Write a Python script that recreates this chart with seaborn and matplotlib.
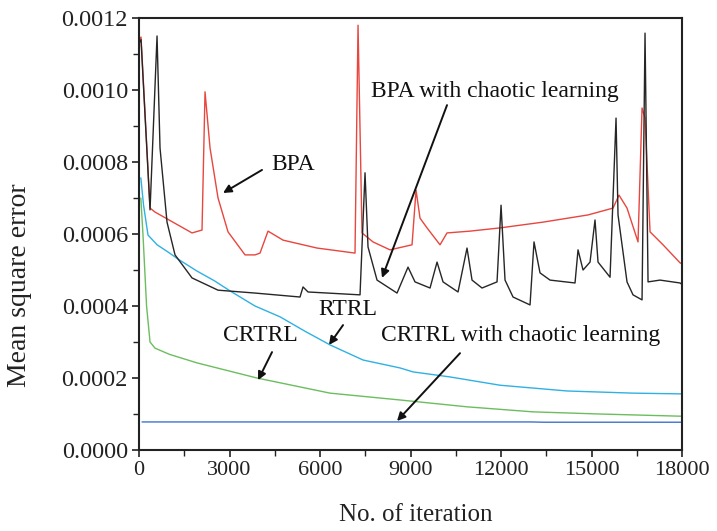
import numpy as np
import pandas as pd
import matplotlib
matplotlib.use("Agg")
import matplotlib.pyplot as plt
import seaborn as sns

# ---------------- data ----------------
bpa_x = [0, 66, 365, 530, 1757, 2088, 2188, 2354, 2619, 2950, 3514, 3845, 4011, 4276,
         4774, 5901, 7160, 7260, 7392, 7757, 8320, 9050, 9183, 9315, 9547, 9978, 10210,
         10973, 11967, 13393, 14885, 15713, 15912, 16177, 16542, 16675, 16774, 16940,
         17371, 17934, 18000]
bpa_y = [0.00114, 0.001147, 0.000672, 0.000661, 0.000603, 0.000611, 0.000995, 0.000839,
         0.000700, 0.000606, 0.000542, 0.000542, 0.000547, 0.000608, 0.000583, 0.000561,
         0.000547, 0.001180, 0.000603, 0.000578, 0.000556, 0.000570, 0.000722, 0.000644,
         0.000617, 0.000570, 0.000603, 0.000608, 0.000617, 0.000633, 0.000653, 0.000672,
         0.000708, 0.000672, 0.000578, 0.000950, 0.000922, 0.000606, 0.000570, 0.000520,
         0.000517]

chaos_x = [0, 66, 365, 597, 696, 928, 1193, 1757, 2619, 3845, 5337, 5437, 5602, 7326,
           7492, 7591, 7890, 8553, 8917, 9149, 9647, 9879, 10078, 10575, 10873, 11039,
           11370, 11868, 12001, 12133, 12398, 12962, 13094, 13293, 13625, 14453, 14553,
           14719, 14951, 15116, 15216, 15614, 15813, 15879, 16177, 16376, 16675, 16774,
           16874, 17271, 17934, 18000]
chaos_y = [0.00113, 0.00114, 0.000667, 0.001150, 0.000839, 0.000633, 0.000542, 0.000478,
           0.000444, 0.000436, 0.000425, 0.000453, 0.000439, 0.000431, 0.000770, 0.000564,
           0.000472, 0.000436, 0.000508, 0.000467, 0.000450, 0.000522, 0.000467, 0.000439,
           0.000561, 0.000472, 0.000450, 0.000467, 0.000680, 0.000472, 0.000425, 0.000403,
           0.000578, 0.000492, 0.000472, 0.000464, 0.000556, 0.000500, 0.000522, 0.000639,
           0.000522, 0.000480, 0.000922, 0.000653, 0.000467, 0.000431, 0.000417, 0.001158,
           0.000467, 0.000472, 0.000464, 0.000460]

rtrl_x = [60, 150, 298, 600, 961, 1300, 1923, 2500, 3017, 3845, 4674, 5500, 6332, 7426,
          8652, 9083, 10310, 11967, 14188, 16376, 17934, 18000]
rtrl_y = [0.000756, 0.000680, 0.000597, 0.000570, 0.000550, 0.000530, 0.000497, 0.000470,
          0.000442, 0.000400, 0.000370, 0.000330, 0.000292, 0.000250, 0.000228, 0.000217,
          0.000203, 0.000180, 0.000164, 0.000158, 0.000156, 0.000156]

crtrl_x = [60, 130, 250, 365, 530, 1000, 1923, 3911, 6332, 8652, 10873, 13061, 15282,
           17934, 18000]
crtrl_y = [0.000700, 0.000600, 0.000400, 0.000300, 0.000283, 0.000266, 0.000242, 0.000200,
           0.000158, 0.000139, 0.000120, 0.000106, 0.000100, 0.000094, 0.000094]

crtrl_c_x = [100, 13000, 13400, 18000]
crtrl_c_y = [0.0000780, 0.0000780, 0.0000772, 0.0000772]

x_ticks = [0, 3000, 6000, 9000, 12000, 15000, 18000]
y_ticks = [0.0000, 0.0002, 0.0004, 0.0006, 0.0008, 0.0010, 0.0012]
y_tick_labels = ["0.0000", "0.0002", "0.0004", "0.0006", "0.0008", "0.0010", "0.0012"]

# ---------------- styling ----------------
sns.set_style("ticks")
plt.rcParams["font.family"] = ["Liberation Serif", "DejaVu Serif"]

fig = plt.figure(figsize=(7.17, 5.31), dpi=100)
ax = fig.add_axes([0.1939, 0.1525, 0.9512 - 0.1939, 0.9661 - 0.1525])

series = [
    (bpa_x, bpa_y, "#e8463e"),
    (crtrl_x, crtrl_y, "#6cbd5f"),
    (rtrl_x, rtrl_y, "#2fb1e3"),
    (crtrl_c_x, crtrl_c_y, "#3d73cf"),
    (chaos_x, chaos_y, "#262626"),
]
for xs, ys, col in series:
    df = pd.DataFrame({"x": xs, "y": ys})
    sns.lineplot(data=df, x="x", y="y", ax=ax, color=col, linewidth=1.0,
                 sort=False, estimator=None)

ax.set_xlim(0, 18000)
ax.set_ylim(0, 0.0012)
ax.set_xticks(x_ticks)
ax.set_xticklabels([str(v) for v in x_ticks])
ax.set_yticks(y_ticks)
ax.set_yticklabels(y_tick_labels)
ax.set_xticks(np.arange(1500, 18000, 3000), minor=True)
ax.set_yticks(np.arange(0.0001, 0.0012, 0.0002), minor=True)
ax.tick_params(axis="both", which="major", direction="out", length=5, width=1.2,
               colors="#222222", pad=3)
ax.tick_params(axis="x", which="major", labelsize=16)
ax.tick_params(axis="y", which="major", labelsize=17.5)
ax.tick_params(axis="both", which="minor", direction="out", length=4, width=1.0,
               colors="#222222")
ax.tick_params(top=False, right=False)
for s in ax.spines.values():
    s.set_linewidth(1.5)
    s.set_color("#222222")

ax.set_xlabel("No. of iteration", fontsize=18, color="#222222")
ax.set_ylabel("Mean square error", fontsize=20, color="#222222")
ax.xaxis.set_label_coords(0.51, -0.125)
ax.yaxis.set_label_coords(-0.197, 0.382)

arrow = dict(arrowstyle="-|>", color="#111111", lw=1.4, mutation_scale=12,
             shrinkA=0, shrinkB=0)
ax.annotate("", xy=(2785, 0.000714), xytext=(4077, 0.000778), arrowprops=arrow)
ax.text(5105, 0.000792, "BPA", fontsize=17, ha="center", va="center", color="#111111")

ax.annotate("", xy=(8055, 0.000478), xytext=(10210, 0.000958), arrowprops=arrow)
ax.text(11800, 0.000995, "BPA with chaotic learning", fontsize=17, ha="center",
        va="center", color="#111111")

ax.annotate("", xy=(6299, 0.000292), xytext=(6763, 0.000347), arrowprops=arrow)
ax.text(6928, 0.000389, "RTRL", fontsize=17, ha="center", va="center", color="#111111")

ax.annotate("", xy=(3945, 0.000194), xytext=(4409, 0.000272), arrowprops=arrow)
ax.text(4011, 0.000317, "CRTRL", fontsize=17, ha="center", va="center", color="#111111")

ax.annotate("", xy=(8553, 0.0000806), xytext=(10641, 0.000269), arrowprops=arrow)
ax.text(12663, 0.000317, "CRTRL with chaotic learning", fontsize=17, ha="center",
        va="center", color="#111111")

fig.savefig("out.png", dpi=100, facecolor="white")
